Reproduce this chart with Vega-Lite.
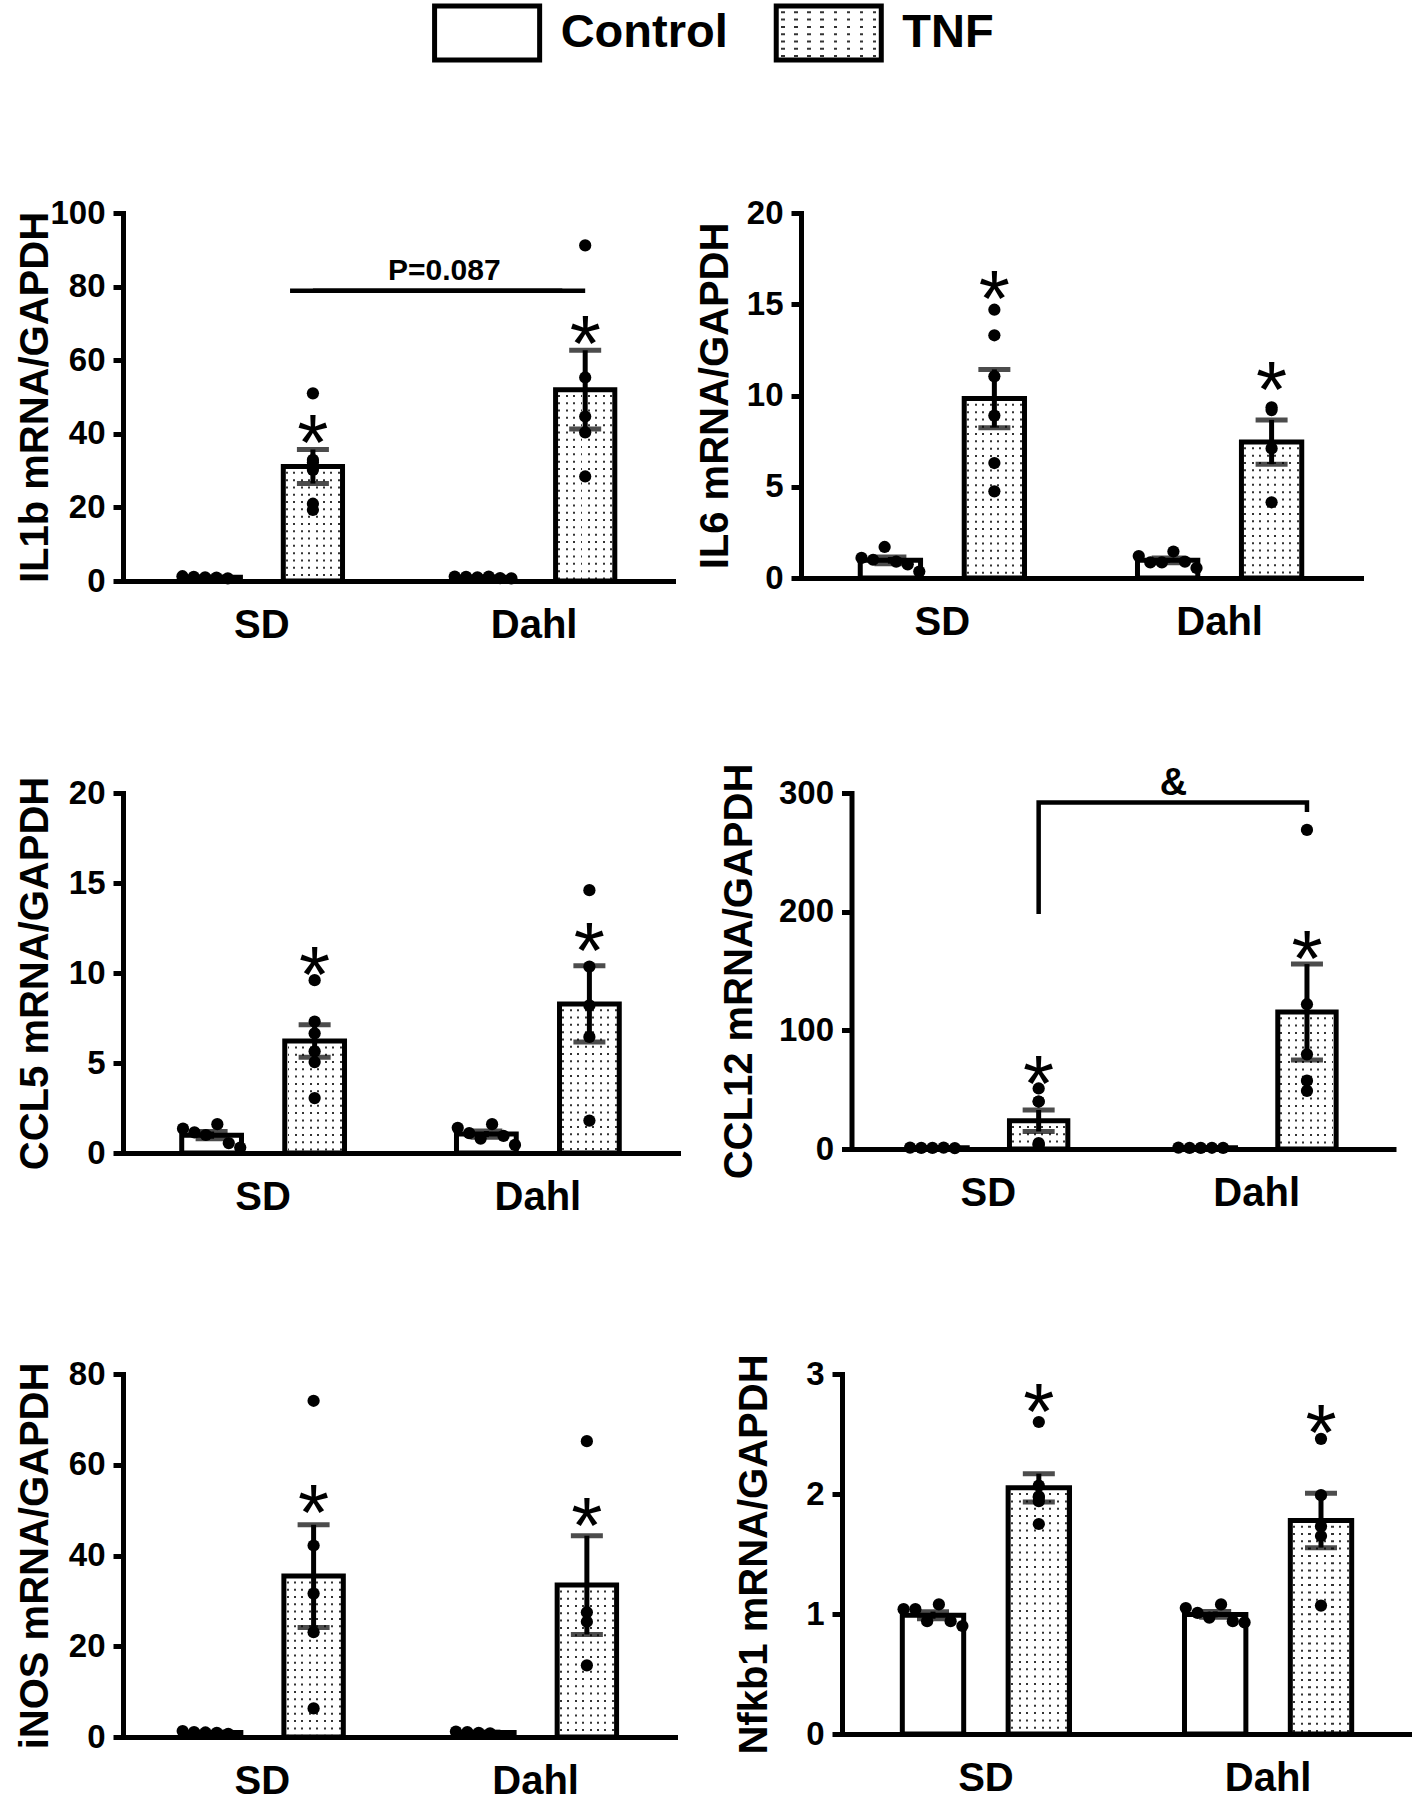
{
"$schema": "https://vega.github.io/schema/vega-lite/v6.json",
"padding": {"left": 15, "top": 3, "right": 5, "bottom": 5},
"spacing": 134,
"config": {
  "font": "Liberation Sans",
  "view": {"stroke": null},
  "axis": {"domainColor": "black", "domainWidth": 5, "domainCap": "square", "tickColor": "black", "tickWidth": 5, "labelColor": "black", "labelFontWeight": "bold", "titleColor": "black", "titleFontWeight": "bold", "grid": false},
  "axisY": {"tickSize": 10, "labelFontSize": 33, "labelPadding": 8, "titleFontSize": 40},
  "axisX": {"ticks": false, "tickSize": 0, "labelFontSize": 40, "labelPadding": 24, "labelAngle": 0}
},
"datasets": {
  "il1b": [
    {"strain":"SD","treatment":"Control","rep":1,"value":1.3},{"strain":"SD","treatment":"Control","rep":2,"value":1.1},{"strain":"SD","treatment":"Control","rep":3,"value":1.0},{"strain":"SD","treatment":"Control","rep":4,"value":0.9},{"strain":"SD","treatment":"Control","rep":5,"value":0.7},
    {"strain":"SD","treatment":"TNF","rep":1,"value":51.0},{"strain":"SD","treatment":"TNF","rep":2,"value":32.9},{"strain":"SD","treatment":"TNF","rep":3,"value":32.2},{"strain":"SD","treatment":"TNF","rep":4,"value":30.2},{"strain":"SD","treatment":"TNF","rep":5,"value":21.0},{"strain":"SD","treatment":"TNF","rep":6,"value":19.3},
    {"strain":"Dahl","treatment":"Control","rep":1,"value":1.2},{"strain":"Dahl","treatment":"Control","rep":2,"value":1.1},{"strain":"Dahl","treatment":"Control","rep":3,"value":1.0},{"strain":"Dahl","treatment":"Control","rep":4,"value":1.2},{"strain":"Dahl","treatment":"Control","rep":5,"value":0.8},{"strain":"Dahl","treatment":"Control","rep":6,"value":0.7},
    {"strain":"Dahl","treatment":"TNF","rep":1,"value":91.2},{"strain":"Dahl","treatment":"TNF","rep":2,"value":55.3},{"strain":"Dahl","treatment":"TNF","rep":3,"value":44.7},{"strain":"Dahl","treatment":"TNF","rep":4,"value":40.4},{"strain":"Dahl","treatment":"TNF","rep":5,"value":28.4}
  ],
  "il6": [
    {"strain":"SD","treatment":"Control","rep":1,"value":1.1},{"strain":"SD","treatment":"Control","rep":2,"value":1.0},{"strain":"SD","treatment":"Control","rep":3,"value":1.7},{"strain":"SD","treatment":"Control","rep":4,"value":0.9},{"strain":"SD","treatment":"Control","rep":5,"value":0.75},{"strain":"SD","treatment":"Control","rep":6,"value":0.35},
    {"strain":"SD","treatment":"TNF","rep":1,"value":14.7},{"strain":"SD","treatment":"TNF","rep":2,"value":13.3},{"strain":"SD","treatment":"TNF","rep":3,"value":11.05},{"strain":"SD","treatment":"TNF","rep":4,"value":8.9},{"strain":"SD","treatment":"TNF","rep":5,"value":6.3},{"strain":"SD","treatment":"TNF","rep":6,"value":4.75},
    {"strain":"Dahl","treatment":"Control","rep":1,"value":1.2},{"strain":"Dahl","treatment":"Control","rep":2,"value":0.85},{"strain":"Dahl","treatment":"Control","rep":3,"value":0.85},{"strain":"Dahl","treatment":"Control","rep":4,"value":1.45},{"strain":"Dahl","treatment":"Control","rep":5,"value":0.9},{"strain":"Dahl","treatment":"Control","rep":6,"value":0.55},
    {"strain":"Dahl","treatment":"TNF","rep":1,"value":9.35},{"strain":"Dahl","treatment":"TNF","rep":2,"value":9.2},{"strain":"Dahl","treatment":"TNF","rep":3,"value":7.1},{"strain":"Dahl","treatment":"TNF","rep":4,"value":4.15}
  ],
  "ccl5": [
    {"strain":"SD","treatment":"Control","rep":1,"value":1.35},{"strain":"SD","treatment":"Control","rep":2,"value":1.15},{"strain":"SD","treatment":"Control","rep":3,"value":1.0},{"strain":"SD","treatment":"Control","rep":4,"value":1.6},{"strain":"SD","treatment":"Control","rep":5,"value":0.55},{"strain":"SD","treatment":"Control","rep":6,"value":0.3},
    {"strain":"SD","treatment":"TNF","rep":1,"value":9.6},{"strain":"SD","treatment":"TNF","rep":2,"value":7.3},{"strain":"SD","treatment":"TNF","rep":3,"value":6.65},{"strain":"SD","treatment":"TNF","rep":4,"value":5.65},{"strain":"SD","treatment":"TNF","rep":5,"value":5.05},{"strain":"SD","treatment":"TNF","rep":6,"value":3.05},
    {"strain":"Dahl","treatment":"Control","rep":1,"value":1.4},{"strain":"Dahl","treatment":"Control","rep":2,"value":1.1},{"strain":"Dahl","treatment":"Control","rep":3,"value":0.8},{"strain":"Dahl","treatment":"Control","rep":4,"value":1.6},{"strain":"Dahl","treatment":"Control","rep":5,"value":0.95},{"strain":"Dahl","treatment":"Control","rep":6,"value":0.45},
    {"strain":"Dahl","treatment":"TNF","rep":1,"value":14.6},{"strain":"Dahl","treatment":"TNF","rep":2,"value":10.35},{"strain":"Dahl","treatment":"TNF","rep":3,"value":8.2},{"strain":"Dahl","treatment":"TNF","rep":4,"value":6.45},{"strain":"Dahl","treatment":"TNF","rep":5,"value":1.8}
  ],
  "ccl12": [
    {"strain":"SD","treatment":"Control","rep":1,"value":1.2},{"strain":"SD","treatment":"Control","rep":2,"value":1.0},{"strain":"SD","treatment":"Control","rep":3,"value":0.9},{"strain":"SD","treatment":"Control","rep":4,"value":1.1},{"strain":"SD","treatment":"Control","rep":5,"value":0.8},
    {"strain":"SD","treatment":"TNF","rep":1,"value":40},{"strain":"SD","treatment":"TNF","rep":2,"value":40},{"strain":"SD","treatment":"TNF","rep":3,"value":51},{"strain":"SD","treatment":"TNF","rep":4,"value":5},{"strain":"SD","treatment":"TNF","rep":5,"value":4},{"strain":"SD","treatment":"TNF","rep":6,"value":3},
    {"strain":"Dahl","treatment":"Control","rep":1,"value":1.1},{"strain":"Dahl","treatment":"Control","rep":2,"value":1.0},{"strain":"Dahl","treatment":"Control","rep":3,"value":0.9},{"strain":"Dahl","treatment":"Control","rep":4,"value":1.05},{"strain":"Dahl","treatment":"Control","rep":5,"value":0.95},
    {"strain":"Dahl","treatment":"TNF","rep":1,"value":268.9},{"strain":"Dahl","treatment":"TNF","rep":2,"value":122},{"strain":"Dahl","treatment":"TNF","rep":3,"value":79.8},{"strain":"Dahl","treatment":"TNF","rep":4,"value":57.6},{"strain":"Dahl","treatment":"TNF","rep":5,"value":49}
  ],
  "inos": [
    {"strain":"SD","treatment":"Control","rep":1,"value":1.3},{"strain":"SD","treatment":"Control","rep":2,"value":1.1},{"strain":"SD","treatment":"Control","rep":3,"value":1.0},{"strain":"SD","treatment":"Control","rep":4,"value":0.9},{"strain":"SD","treatment":"Control","rep":5,"value":0.7},
    {"strain":"SD","treatment":"TNF","rep":1,"value":74.1},{"strain":"SD","treatment":"TNF","rep":2,"value":42.2},{"strain":"SD","treatment":"TNF","rep":3,"value":31.6},{"strain":"SD","treatment":"TNF","rep":4,"value":23.1},{"strain":"SD","treatment":"TNF","rep":5,"value":6.3},
    {"strain":"Dahl","treatment":"Control","rep":1,"value":1.2},{"strain":"Dahl","treatment":"Control","rep":2,"value":1.1},{"strain":"Dahl","treatment":"Control","rep":3,"value":0.9},{"strain":"Dahl","treatment":"Control","rep":4,"value":0.8},
    {"strain":"Dahl","treatment":"TNF","rep":1,"value":65.2},{"strain":"Dahl","treatment":"TNF","rep":2,"value":27.5},{"strain":"Dahl","treatment":"TNF","rep":3,"value":25.4},{"strain":"Dahl","treatment":"TNF","rep":4,"value":15.8}
  ],
  "nfkb1": [
    {"strain":"SD","treatment":"Control","rep":1,"value":1.04},{"strain":"SD","treatment":"Control","rep":2,"value":1.04},{"strain":"SD","treatment":"Control","rep":3,"value":0.94},{"strain":"SD","treatment":"Control","rep":4,"value":1.08},{"strain":"SD","treatment":"Control","rep":5,"value":0.94},{"strain":"SD","treatment":"Control","rep":6,"value":0.9},
    {"strain":"SD","treatment":"TNF","rep":1,"value":2.6},{"strain":"SD","treatment":"TNF","rep":2,"value":2.07},{"strain":"SD","treatment":"TNF","rep":3,"value":1.98},{"strain":"SD","treatment":"TNF","rep":4,"value":1.97},{"strain":"SD","treatment":"TNF","rep":5,"value":1.94},{"strain":"SD","treatment":"TNF","rep":6,"value":1.75},
    {"strain":"Dahl","treatment":"Control","rep":1,"value":1.05},{"strain":"Dahl","treatment":"Control","rep":2,"value":1.01},{"strain":"Dahl","treatment":"Control","rep":3,"value":0.97},{"strain":"Dahl","treatment":"Control","rep":4,"value":1.08},{"strain":"Dahl","treatment":"Control","rep":5,"value":0.94},{"strain":"Dahl","treatment":"Control","rep":6,"value":0.93},
    {"strain":"Dahl","treatment":"TNF","rep":1,"value":2.46},{"strain":"Dahl","treatment":"TNF","rep":2,"value":1.99},{"strain":"Dahl","treatment":"TNF","rep":3,"value":1.73},{"strain":"Dahl","treatment":"TNF","rep":4,"value":1.65},{"strain":"Dahl","treatment":"TNF","rep":5,"value":1.07}
  ],
  "stars1": [{"strain":"SD","treatment":"TNF","value":42.4},{"strain":"Dahl","treatment":"TNF","value":69.2}],
  "stars2": [{"strain":"SD","treatment":"TNF","value":16.3},{"strain":"Dahl","treatment":"TNF","value":11.3}],
  "stars3": [{"strain":"SD","treatment":"TNF","value":10.9},{"strain":"Dahl","treatment":"TNF","value":12.2}],
  "stars4": [{"strain":"SD","treatment":"TNF","value":69.9},{"strain":"Dahl","treatment":"TNF","value":175.4}],
  "stars5": [{"strain":"SD","treatment":"TNF","value":53.4},{"strain":"Dahl","treatment":"TNF","value":50.5}],
  "stars6": [{"strain":"SD","treatment":"TNF","value":2.83},{"strain":"Dahl","treatment":"TNF","value":2.66}],
  "pline": [{"strain":"SD","treatment":"TNF","value":78.9},{"strain":"Dahl","treatment":"TNF","value":78.9}],
  "ptext": [{"strain":"Dahl","label":"P=0.087","value":81.8}],
  "bracket": [{"strain":"SD","treatment":"TNF","ord":1,"value":198},{"strain":"SD","treatment":"TNF","ord":2,"value":292},{"strain":"Dahl","treatment":"TNF","ord":3,"value":292},{"strain":"Dahl","treatment":"TNF","ord":4,"value":284}],
  "amp": [{"strain":"Dahl","label":"&","value":298}],
  "legend": [{"treatment":"Control"},{"treatment":"TNF"}]
},
"vconcat": [
{
  "width": 1130, "height": 54,
  "data": {"name": "legend"},
  "encoding": {"x": {"field": "treatment", "type": "nominal", "axis": null, "scale": {"domain": ["Control","TNF"], "paddingInner": 0.6925, "paddingOuter": 1, "align": 0.456}}},
  "layer": [
    {"transform": [{"filter": "datum.treatment === 'Control'"}], "mark": {"type": "bar", "fill": "white", "stroke": "black", "strokeWidth": 5}},
    {"transform": [{"filter": "datum.treatment === 'TNF'"}], "mark": {"type": "bar", "strokeWidth": 0, "fill": {"gradient": "linear", "x1": 0, "y1": 0, "x2": 1, "y2": 0, "stops": [{"offset":0,"color":"white"},{"offset":0.046,"color":"white"},{"offset":0.046,"color":"#333"},{"offset":0.079,"color":"#333"},{"offset":0.079,"color":"white"},{"offset":0.171,"color":"white"},{"offset":0.171,"color":"#333"},{"offset":0.204,"color":"#333"},{"offset":0.204,"color":"white"},{"offset":0.296,"color":"white"},{"offset":0.296,"color":"#333"},{"offset":0.329,"color":"#333"},{"offset":0.329,"color":"white"},{"offset":0.421,"color":"white"},{"offset":0.421,"color":"#333"},{"offset":0.454,"color":"#333"},{"offset":0.454,"color":"white"},{"offset":0.546,"color":"white"},{"offset":0.546,"color":"#333"},{"offset":0.579,"color":"#333"},{"offset":0.579,"color":"white"},{"offset":0.671,"color":"white"},{"offset":0.671,"color":"#333"},{"offset":0.704,"color":"#333"},{"offset":0.704,"color":"white"},{"offset":0.796,"color":"white"},{"offset":0.796,"color":"#333"},{"offset":0.829,"color":"#333"},{"offset":0.829,"color":"white"},{"offset":0.921,"color":"white"},{"offset":0.921,"color":"#333"},{"offset":0.954,"color":"#333"},{"offset":0.954,"color":"white"},{"offset":1,"color":"white"}]}}},
    {"transform": [{"filter": "datum.treatment === 'TNF'"}], "mark": {"type": "rule", "color": "white", "strokeWidth": 98, "strokeDash": [5.3, 2], "strokeCap": "butt", "clip": true}, "encoding": {}},
    {"transform": [{"filter": "datum.treatment === 'TNF'"}], "mark": {"type": "bar", "filled": false, "stroke": "black", "strokeWidth": 5}},
    {"mark": {"type": "text", "align": "left", "baseline": "middle", "dx": 21, "fontSize": 47, "fontWeight": "bold", "color": "black"},
     "encoding": {"x": {"field": "treatment", "type": "nominal", "bandPosition": 1, "axis": null, "scale": {"domain": ["Control","TNF"], "paddingInner": 0.6925, "paddingOuter": 1, "align": 0.456}}, "text": {"field": "treatment"}}}
  ]
},
{"spacing": 118, "vconcat": [
{"hconcat": [
{
  "width": 550, "height": 368,
  "data": {"name": "il1b"},
  "encoding": {"x": {"field": "strain", "type": "nominal", "title": null, "scale": {"domain": ["SD","Dahl"], "paddingInner": 0.25, "paddingOuter": 0.135}}},
  "layer": [
    {"transform": [{"filter": "datum.treatment === 'Control'"}], "mark": {"type": "bar", "fill": "white", "stroke": "black", "strokeWidth": 5},
     "encoding": {"xOffset": {"field": "treatment", "type": "nominal", "scale": {"type": "band", "domain": ["Control","TNF"], "paddingInner": 0.42, "paddingOuter": 0.21}},
                  "y": {"aggregate": "mean", "field": "value", "type": "quantitative", "title": "IL1b mRNA/GAPDH", "scale": {"domain": [0,100], "nice": false}, "axis": {"values": [0,20,40,60,80,100], "titlePadding": -5.5}}}},
    {"transform": [{"filter": "datum.treatment === 'TNF'"}], "mark": {"type": "bar", "strokeWidth": 0, "fill": {"gradient": "linear", "x1": 0, "y1": 0, "x2": 1, "y2": 0, "stops": [{"offset":0,"color":"white"},{"offset":0.046,"color":"white"},{"offset":0.046,"color":"#333"},{"offset":0.079,"color":"#333"},{"offset":0.079,"color":"white"},{"offset":0.171,"color":"white"},{"offset":0.171,"color":"#333"},{"offset":0.204,"color":"#333"},{"offset":0.204,"color":"white"},{"offset":0.296,"color":"white"},{"offset":0.296,"color":"#333"},{"offset":0.329,"color":"#333"},{"offset":0.329,"color":"white"},{"offset":0.421,"color":"white"},{"offset":0.421,"color":"#333"},{"offset":0.454,"color":"#333"},{"offset":0.454,"color":"white"},{"offset":0.546,"color":"white"},{"offset":0.546,"color":"#333"},{"offset":0.579,"color":"#333"},{"offset":0.579,"color":"white"},{"offset":0.671,"color":"white"},{"offset":0.671,"color":"#333"},{"offset":0.704,"color":"#333"},{"offset":0.704,"color":"white"},{"offset":0.796,"color":"white"},{"offset":0.796,"color":"#333"},{"offset":0.829,"color":"#333"},{"offset":0.829,"color":"white"},{"offset":0.921,"color":"white"},{"offset":0.921,"color":"#333"},{"offset":0.954,"color":"#333"},{"offset":0.954,"color":"white"},{"offset":1,"color":"white"}]}},
     "encoding": {"xOffset": {"field": "treatment", "type": "nominal", "scale": {"type": "band", "domain": ["Control","TNF"], "paddingInner": 0.42, "paddingOuter": 0.21}},
                  "y": {"aggregate": "mean", "field": "value", "type": "quantitative", "title": "IL1b mRNA/GAPDH", "scale": {"domain": [0,100], "nice": false}}}},
    {"transform": [{"filter": "datum.treatment === 'TNF'"}], "mark": {"type": "rule", "color": "white", "strokeWidth": 56, "strokeDash": [5.3, 2], "strokeCap": "butt", "clip": true},
     "encoding": {"xOffset": {"field": "treatment", "type": "nominal", "scale": {"type": "band", "domain": ["Control","TNF"], "paddingInner": 0.42, "paddingOuter": 0.21}},
                  "y": {"aggregate": "mean", "field": "value", "type": "quantitative", "title": "IL1b mRNA/GAPDH", "scale": {"domain": [0,100], "nice": false}}, "y2": {"datum": 0}}},
    {"transform": [{"filter": "datum.treatment === 'TNF'"}], "mark": {"type": "bar", "filled": false, "stroke": "black", "strokeWidth": 5},
     "encoding": {"xOffset": {"field": "treatment", "type": "nominal", "scale": {"type": "band", "domain": ["Control","TNF"], "paddingInner": 0.42, "paddingOuter": 0.21}},
                  "y": {"aggregate": "mean", "field": "value", "type": "quantitative", "title": "IL1b mRNA/GAPDH", "scale": {"domain": [0,100], "nice": false}}}},
    {"mark": {"type": "errorbar", "extent": "stderr", "color": "black", "thickness": 5, "ticks": {"size": 32, "thickness": 5, "color": "black"}},
     "encoding": {"xOffset": {"field": "treatment", "type": "nominal", "scale": {"type": "band", "domain": ["Control","TNF"], "paddingInner": 0.42, "paddingOuter": 0.21}},
                  "y": {"field": "value", "type": "quantitative", "title": "IL1b mRNA/GAPDH", "scale": {"domain": [0,100], "nice": false}}}},
    {"transform": [{"filter": "datum.treatment === 'Control'"}], "mark": {"type": "point", "filled": true, "color": "black", "size": 150, "opacity": 1},
     "encoding": {"xOffset": {"field": "rep", "type": "nominal", "scale": {"type": "point", "domain": [-1,0,1,2,3,4,5,6,7,8,9,10,11,12,13,14,15,16,17], "padding": 0}},
                  "y": {"field": "value", "type": "quantitative", "title": "IL1b mRNA/GAPDH", "scale": {"domain": [0,100], "nice": false}}}},
    {"transform": [{"filter": "datum.treatment === 'TNF'"}], "mark": {"type": "point", "filled": true, "color": "black", "size": 150, "opacity": 1},
     "encoding": {"xOffset": {"field": "treatment", "type": "nominal", "scale": {"type": "band", "domain": ["Control","TNF"], "paddingInner": 0.42, "paddingOuter": 0.21}},
                  "y": {"field": "value", "type": "quantitative", "title": "IL1b mRNA/GAPDH", "scale": {"domain": [0,100], "nice": false}}}},
    {"data": {"name": "stars1"}, "mark": {"type": "text", "text": "*", "fontSize": 80, "dy": 45, "baseline": "alphabetic", "color": "black"},
     "encoding": {"xOffset": {"field": "treatment", "type": "nominal", "scale": {"type": "band", "domain": ["Control","TNF"], "paddingInner": 0.42, "paddingOuter": 0.21}},
                  "y": {"field": "value", "type": "quantitative", "title": "IL1b mRNA/GAPDH", "scale": {"domain": [0,100], "nice": false}}}},
    {"data": {"name": "pline"}, "mark": {"type": "line", "color": "black", "strokeWidth": 4.5},
     "encoding": {"xOffset": {"field": "treatment", "type": "nominal", "scale": {"type": "band", "domain": ["Control","TNF"], "paddingInner": 0.42, "paddingOuter": 0.21}},
                  "y": {"field": "value", "type": "quantitative", "title": "IL1b mRNA/GAPDH", "scale": {"domain": [0,100], "nice": false}}}},
    {"data": {"name": "pline"}, "mark": {"type": "line", "color": "black", "strokeWidth": 4.5},
     "encoding": {"x": {"field": "strain", "type": "nominal", "title": null, "bandPosition": 0.638, "scale": {"domain": ["SD","Dahl"], "paddingInner": 0.25, "paddingOuter": 0.135}},
                  "y": {"field": "value", "type": "quantitative", "title": "IL1b mRNA/GAPDH", "scale": {"domain": [0,100], "nice": false}}}},
    {"data": {"name": "ptext"}, "mark": {"type": "text", "fontSize": 30, "fontWeight": "bold", "baseline": "alphabetic", "align": "center", "color": "black"},
     "encoding": {"x": {"field": "strain", "type": "nominal", "title": null, "bandPosition": 0.06, "scale": {"domain": ["SD","Dahl"], "paddingInner": 0.25, "paddingOuter": 0.135}},
                  "y": {"field": "value", "type": "quantitative", "title": "IL1b mRNA/GAPDH", "scale": {"domain": [0,100], "nice": false}}, "text": {"field": "label"}}}
  ],
  "resolve": {"scale": {"xOffset": "independent"}}
},
{
  "width": 560, "height": 365,
  "data": {"name": "il6"},
  "encoding": {"x": {"field": "strain", "type": "nominal", "title": null, "scale": {"domain": ["SD","Dahl"], "paddingInner": 0.25, "paddingOuter": 0.135}}},
  "layer": [
    {"transform": [{"filter": "datum.treatment === 'Control'"}], "mark": {"type": "bar", "fill": "white", "stroke": "black", "strokeWidth": 5},
     "encoding": {"xOffset": {"field": "treatment", "type": "nominal", "scale": {"type": "band", "domain": ["Control","TNF"], "paddingInner": 0.42, "paddingOuter": 0.21}},
                  "y": {"aggregate": "mean", "field": "value", "type": "quantitative", "title": "IL6 mRNA/GAPDH", "scale": {"domain": [0,20], "nice": false}, "axis": {"values": [0,5,10,15,20], "titlePadding": 11}}}},
    {"transform": [{"filter": "datum.treatment === 'TNF'"}], "mark": {"type": "bar", "strokeWidth": 0, "fill": {"gradient": "linear", "x1": 0, "y1": 0, "x2": 1, "y2": 0, "stops": [{"offset":0,"color":"white"},{"offset":0.046,"color":"white"},{"offset":0.046,"color":"#333"},{"offset":0.079,"color":"#333"},{"offset":0.079,"color":"white"},{"offset":0.171,"color":"white"},{"offset":0.171,"color":"#333"},{"offset":0.204,"color":"#333"},{"offset":0.204,"color":"white"},{"offset":0.296,"color":"white"},{"offset":0.296,"color":"#333"},{"offset":0.329,"color":"#333"},{"offset":0.329,"color":"white"},{"offset":0.421,"color":"white"},{"offset":0.421,"color":"#333"},{"offset":0.454,"color":"#333"},{"offset":0.454,"color":"white"},{"offset":0.546,"color":"white"},{"offset":0.546,"color":"#333"},{"offset":0.579,"color":"#333"},{"offset":0.579,"color":"white"},{"offset":0.671,"color":"white"},{"offset":0.671,"color":"#333"},{"offset":0.704,"color":"#333"},{"offset":0.704,"color":"white"},{"offset":0.796,"color":"white"},{"offset":0.796,"color":"#333"},{"offset":0.829,"color":"#333"},{"offset":0.829,"color":"white"},{"offset":0.921,"color":"white"},{"offset":0.921,"color":"#333"},{"offset":0.954,"color":"#333"},{"offset":0.954,"color":"white"},{"offset":1,"color":"white"}]}},
     "encoding": {"xOffset": {"field": "treatment", "type": "nominal", "scale": {"type": "band", "domain": ["Control","TNF"], "paddingInner": 0.42, "paddingOuter": 0.21}},
                  "y": {"aggregate": "mean", "field": "value", "type": "quantitative", "title": "IL6 mRNA/GAPDH", "scale": {"domain": [0,20], "nice": false}}}},
    {"transform": [{"filter": "datum.treatment === 'TNF'"}], "mark": {"type": "rule", "color": "white", "strokeWidth": 56, "strokeDash": [5.3, 2], "strokeCap": "butt", "clip": true},
     "encoding": {"xOffset": {"field": "treatment", "type": "nominal", "scale": {"type": "band", "domain": ["Control","TNF"], "paddingInner": 0.42, "paddingOuter": 0.21}},
                  "y": {"aggregate": "mean", "field": "value", "type": "quantitative", "title": "IL6 mRNA/GAPDH", "scale": {"domain": [0,20], "nice": false}}, "y2": {"datum": 0}}},
    {"transform": [{"filter": "datum.treatment === 'TNF'"}], "mark": {"type": "bar", "filled": false, "stroke": "black", "strokeWidth": 5},
     "encoding": {"xOffset": {"field": "treatment", "type": "nominal", "scale": {"type": "band", "domain": ["Control","TNF"], "paddingInner": 0.42, "paddingOuter": 0.21}},
                  "y": {"aggregate": "mean", "field": "value", "type": "quantitative", "title": "IL6 mRNA/GAPDH", "scale": {"domain": [0,20], "nice": false}}}},
    {"mark": {"type": "errorbar", "extent": "stderr", "color": "black", "thickness": 5, "ticks": {"size": 32, "thickness": 5, "color": "black"}},
     "encoding": {"xOffset": {"field": "treatment", "type": "nominal", "scale": {"type": "band", "domain": ["Control","TNF"], "paddingInner": 0.42, "paddingOuter": 0.21}},
                  "y": {"field": "value", "type": "quantitative", "title": "IL6 mRNA/GAPDH", "scale": {"domain": [0,20], "nice": false}}}},
    {"transform": [{"filter": "datum.treatment === 'Control'"}], "mark": {"type": "point", "filled": true, "color": "black", "size": 150, "opacity": 1},
     "encoding": {"xOffset": {"field": "rep", "type": "nominal", "scale": {"type": "point", "domain": [-1,0,1,2,3,4,5,6,7,8,9,10,11,12,13,14,15,16,17], "padding": 0}},
                  "y": {"field": "value", "type": "quantitative", "title": "IL6 mRNA/GAPDH", "scale": {"domain": [0,20], "nice": false}}}},
    {"transform": [{"filter": "datum.treatment === 'TNF'"}], "mark": {"type": "point", "filled": true, "color": "black", "size": 150, "opacity": 1},
     "encoding": {"xOffset": {"field": "treatment", "type": "nominal", "scale": {"type": "band", "domain": ["Control","TNF"], "paddingInner": 0.42, "paddingOuter": 0.21}},
                  "y": {"field": "value", "type": "quantitative", "title": "IL6 mRNA/GAPDH", "scale": {"domain": [0,20], "nice": false}}}},
    {"data": {"name": "stars2"}, "mark": {"type": "text", "text": "*", "fontSize": 80, "dy": 45, "baseline": "alphabetic", "color": "black"},
     "encoding": {"xOffset": {"field": "treatment", "type": "nominal", "scale": {"type": "band", "domain": ["Control","TNF"], "paddingInner": 0.42, "paddingOuter": 0.21}},
                  "y": {"field": "value", "type": "quantitative", "title": "IL6 mRNA/GAPDH", "scale": {"domain": [0,20], "nice": false}}}}
  ],
  "resolve": {"scale": {"xOffset": "independent"}}
}
], "spacing": 22},
{"spacing": 136, "vconcat": [
{"hconcat": [
{
  "width": 555, "height": 360,
  "data": {"name": "ccl5"},
  "encoding": {"x": {"field": "strain", "type": "nominal", "title": null, "scale": {"domain": ["SD","Dahl"], "paddingInner": 0.25, "paddingOuter": 0.135}}},
  "layer": [
    {"transform": [{"filter": "datum.treatment === 'Control'"}], "mark": {"type": "bar", "fill": "white", "stroke": "black", "strokeWidth": 5},
     "encoding": {"xOffset": {"field": "treatment", "type": "nominal", "scale": {"type": "band", "domain": ["Control","TNF"], "paddingInner": 0.42, "paddingOuter": 0.21}},
                  "y": {"aggregate": "mean", "field": "value", "type": "quantitative", "title": "CCL5 mRNA/GAPDH", "scale": {"domain": [0,20], "nice": false}, "axis": {"values": [0,5,10,15,20], "titlePadding": 12.5}}}},
    {"transform": [{"filter": "datum.treatment === 'TNF'"}], "mark": {"type": "bar", "strokeWidth": 0, "fill": {"gradient": "linear", "x1": 0, "y1": 0, "x2": 1, "y2": 0, "stops": [{"offset":0,"color":"white"},{"offset":0.046,"color":"white"},{"offset":0.046,"color":"#333"},{"offset":0.079,"color":"#333"},{"offset":0.079,"color":"white"},{"offset":0.171,"color":"white"},{"offset":0.171,"color":"#333"},{"offset":0.204,"color":"#333"},{"offset":0.204,"color":"white"},{"offset":0.296,"color":"white"},{"offset":0.296,"color":"#333"},{"offset":0.329,"color":"#333"},{"offset":0.329,"color":"white"},{"offset":0.421,"color":"white"},{"offset":0.421,"color":"#333"},{"offset":0.454,"color":"#333"},{"offset":0.454,"color":"white"},{"offset":0.546,"color":"white"},{"offset":0.546,"color":"#333"},{"offset":0.579,"color":"#333"},{"offset":0.579,"color":"white"},{"offset":0.671,"color":"white"},{"offset":0.671,"color":"#333"},{"offset":0.704,"color":"#333"},{"offset":0.704,"color":"white"},{"offset":0.796,"color":"white"},{"offset":0.796,"color":"#333"},{"offset":0.829,"color":"#333"},{"offset":0.829,"color":"white"},{"offset":0.921,"color":"white"},{"offset":0.921,"color":"#333"},{"offset":0.954,"color":"#333"},{"offset":0.954,"color":"white"},{"offset":1,"color":"white"}]}},
     "encoding": {"xOffset": {"field": "treatment", "type": "nominal", "scale": {"type": "band", "domain": ["Control","TNF"], "paddingInner": 0.42, "paddingOuter": 0.21}},
                  "y": {"aggregate": "mean", "field": "value", "type": "quantitative", "title": "CCL5 mRNA/GAPDH", "scale": {"domain": [0,20], "nice": false}}}},
    {"transform": [{"filter": "datum.treatment === 'TNF'"}], "mark": {"type": "rule", "color": "white", "strokeWidth": 56, "strokeDash": [5.3, 2], "strokeCap": "butt", "clip": true},
     "encoding": {"xOffset": {"field": "treatment", "type": "nominal", "scale": {"type": "band", "domain": ["Control","TNF"], "paddingInner": 0.42, "paddingOuter": 0.21}},
                  "y": {"aggregate": "mean", "field": "value", "type": "quantitative", "title": "CCL5 mRNA/GAPDH", "scale": {"domain": [0,20], "nice": false}}, "y2": {"datum": 0}}},
    {"transform": [{"filter": "datum.treatment === 'TNF'"}], "mark": {"type": "bar", "filled": false, "stroke": "black", "strokeWidth": 5},
     "encoding": {"xOffset": {"field": "treatment", "type": "nominal", "scale": {"type": "band", "domain": ["Control","TNF"], "paddingInner": 0.42, "paddingOuter": 0.21}},
                  "y": {"aggregate": "mean", "field": "value", "type": "quantitative", "title": "CCL5 mRNA/GAPDH", "scale": {"domain": [0,20], "nice": false}}}},
    {"mark": {"type": "errorbar", "extent": "stderr", "color": "black", "thickness": 5, "ticks": {"size": 32, "thickness": 5, "color": "black"}},
     "encoding": {"xOffset": {"field": "treatment", "type": "nominal", "scale": {"type": "band", "domain": ["Control","TNF"], "paddingInner": 0.42, "paddingOuter": 0.21}},
                  "y": {"field": "value", "type": "quantitative", "title": "CCL5 mRNA/GAPDH", "scale": {"domain": [0,20], "nice": false}}}},
    {"transform": [{"filter": "datum.treatment === 'Control'"}], "mark": {"type": "point", "filled": true, "color": "black", "size": 150, "opacity": 1},
     "encoding": {"xOffset": {"field": "rep", "type": "nominal", "scale": {"type": "point", "domain": [-1,0,1,2,3,4,5,6,7,8,9,10,11,12,13,14,15,16,17], "padding": 0}},
                  "y": {"field": "value", "type": "quantitative", "title": "CCL5 mRNA/GAPDH", "scale": {"domain": [0,20], "nice": false}}}},
    {"transform": [{"filter": "datum.treatment === 'TNF'"}], "mark": {"type": "point", "filled": true, "color": "black", "size": 150, "opacity": 1},
     "encoding": {"xOffset": {"field": "treatment", "type": "nominal", "scale": {"type": "band", "domain": ["Control","TNF"], "paddingInner": 0.42, "paddingOuter": 0.21}},
                  "y": {"field": "value", "type": "quantitative", "title": "CCL5 mRNA/GAPDH", "scale": {"domain": [0,20], "nice": false}}}},
    {"data": {"name": "stars3"}, "mark": {"type": "text", "text": "*", "fontSize": 80, "dy": 45, "baseline": "alphabetic", "color": "black"},
     "encoding": {"xOffset": {"field": "treatment", "type": "nominal", "scale": {"type": "band", "domain": ["Control","TNF"], "paddingInner": 0.42, "paddingOuter": 0.21}},
                  "y": {"field": "value", "type": "quantitative", "title": "CCL5 mRNA/GAPDH", "scale": {"domain": [0,20], "nice": false}}}}
  ],
  "resolve": {"scale": {"xOffset": "independent"}}
},
{
  "width": 542, "height": 356,
  "data": {"name": "ccl12"},
  "encoding": {"x": {"field": "strain", "type": "nominal", "title": null, "scale": {"domain": ["SD","Dahl"], "paddingInner": 0.25, "paddingOuter": 0.135}}},
  "layer": [
    {"transform": [{"filter": "datum.treatment === 'Control'"}], "mark": {"type": "bar", "fill": "white", "stroke": "black", "strokeWidth": 5},
     "encoding": {"xOffset": {"field": "treatment", "type": "nominal", "scale": {"type": "band", "domain": ["Control","TNF"], "paddingInner": 0.42, "paddingOuter": 0.21}},
                  "y": {"aggregate": "mean", "field": "value", "type": "quantitative", "title": "CCL12 mRNA/GAPDH", "scale": {"domain": [0,300], "nice": false}, "axis": {"values": [0,100,200,300], "titlePadding": 18.5}}}},
    {"transform": [{"filter": "datum.treatment === 'TNF'"}], "mark": {"type": "bar", "strokeWidth": 0, "fill": {"gradient": "linear", "x1": 0, "y1": 0, "x2": 1, "y2": 0, "stops": [{"offset":0,"color":"white"},{"offset":0.046,"color":"white"},{"offset":0.046,"color":"#333"},{"offset":0.079,"color":"#333"},{"offset":0.079,"color":"white"},{"offset":0.171,"color":"white"},{"offset":0.171,"color":"#333"},{"offset":0.204,"color":"#333"},{"offset":0.204,"color":"white"},{"offset":0.296,"color":"white"},{"offset":0.296,"color":"#333"},{"offset":0.329,"color":"#333"},{"offset":0.329,"color":"white"},{"offset":0.421,"color":"white"},{"offset":0.421,"color":"#333"},{"offset":0.454,"color":"#333"},{"offset":0.454,"color":"white"},{"offset":0.546,"color":"white"},{"offset":0.546,"color":"#333"},{"offset":0.579,"color":"#333"},{"offset":0.579,"color":"white"},{"offset":0.671,"color":"white"},{"offset":0.671,"color":"#333"},{"offset":0.704,"color":"#333"},{"offset":0.704,"color":"white"},{"offset":0.796,"color":"white"},{"offset":0.796,"color":"#333"},{"offset":0.829,"color":"#333"},{"offset":0.829,"color":"white"},{"offset":0.921,"color":"white"},{"offset":0.921,"color":"#333"},{"offset":0.954,"color":"#333"},{"offset":0.954,"color":"white"},{"offset":1,"color":"white"}]}},
     "encoding": {"xOffset": {"field": "treatment", "type": "nominal", "scale": {"type": "band", "domain": ["Control","TNF"], "paddingInner": 0.42, "paddingOuter": 0.21}},
                  "y": {"aggregate": "mean", "field": "value", "type": "quantitative", "title": "CCL12 mRNA/GAPDH", "scale": {"domain": [0,300], "nice": false}}}},
    {"transform": [{"filter": "datum.treatment === 'TNF'"}], "mark": {"type": "rule", "color": "white", "strokeWidth": 56, "strokeDash": [5.3, 2], "strokeCap": "butt", "clip": true},
     "encoding": {"xOffset": {"field": "treatment", "type": "nominal", "scale": {"type": "band", "domain": ["Control","TNF"], "paddingInner": 0.42, "paddingOuter": 0.21}},
                  "y": {"aggregate": "mean", "field": "value", "type": "quantitative", "title": "CCL12 mRNA/GAPDH", "scale": {"domain": [0,300], "nice": false}}, "y2": {"datum": 0}}},
    {"transform": [{"filter": "datum.treatment === 'TNF'"}], "mark": {"type": "bar", "filled": false, "stroke": "black", "strokeWidth": 5},
     "encoding": {"xOffset": {"field": "treatment", "type": "nominal", "scale": {"type": "band", "domain": ["Control","TNF"], "paddingInner": 0.42, "paddingOuter": 0.21}},
                  "y": {"aggregate": "mean", "field": "value", "type": "quantitative", "title": "CCL12 mRNA/GAPDH", "scale": {"domain": [0,300], "nice": false}}}},
    {"mark": {"type": "errorbar", "extent": "stderr", "color": "black", "thickness": 5, "ticks": {"size": 32, "thickness": 5, "color": "black"}},
     "encoding": {"xOffset": {"field": "treatment", "type": "nominal", "scale": {"type": "band", "domain": ["Control","TNF"], "paddingInner": 0.42, "paddingOuter": 0.21}},
                  "y": {"field": "value", "type": "quantitative", "title": "CCL12 mRNA/GAPDH", "scale": {"domain": [0,300], "nice": false}}}},
    {"transform": [{"filter": "datum.treatment === 'Control'"}], "mark": {"type": "point", "filled": true, "color": "black", "size": 150, "opacity": 1},
     "encoding": {"xOffset": {"field": "rep", "type": "nominal", "scale": {"type": "point", "domain": [-1,0,1,2,3,4,5,6,7,8,9,10,11,12,13,14,15,16,17], "padding": 0}},
                  "y": {"field": "value", "type": "quantitative", "title": "CCL12 mRNA/GAPDH", "scale": {"domain": [0,300], "nice": false}}}},
    {"transform": [{"filter": "datum.treatment === 'TNF'"}], "mark": {"type": "point", "filled": true, "color": "black", "size": 150, "opacity": 1},
     "encoding": {"xOffset": {"field": "treatment", "type": "nominal", "scale": {"type": "band", "domain": ["Control","TNF"], "paddingInner": 0.42, "paddingOuter": 0.21}},
                  "y": {"field": "value", "type": "quantitative", "title": "CCL12 mRNA/GAPDH", "scale": {"domain": [0,300], "nice": false}}}},
    {"data": {"name": "stars4"}, "mark": {"type": "text", "text": "*", "fontSize": 80, "dy": 45, "baseline": "alphabetic", "color": "black"},
     "encoding": {"xOffset": {"field": "treatment", "type": "nominal", "scale": {"type": "band", "domain": ["Control","TNF"], "paddingInner": 0.42, "paddingOuter": 0.21}},
                  "y": {"field": "value", "type": "quantitative", "title": "CCL12 mRNA/GAPDH", "scale": {"domain": [0,300], "nice": false}}}},
    {"data": {"name": "bracket"}, "mark": {"type": "line", "color": "black", "strokeWidth": 4.5},
     "encoding": {"xOffset": {"field": "treatment", "type": "nominal", "scale": {"type": "band", "domain": ["Control","TNF"], "paddingInner": 0.42, "paddingOuter": 0.21}},
                  "order": {"field": "ord", "type": "quantitative"},
                  "y": {"field": "value", "type": "quantitative", "title": "CCL12 mRNA/GAPDH", "scale": {"domain": [0,300], "nice": false}}}},
    {"data": {"name": "amp"}, "mark": {"type": "text", "fontSize": 38, "fontWeight": "bold", "baseline": "alphabetic", "align": "center", "color": "black"},
     "encoding": {"x": {"field": "strain", "type": "nominal", "title": null, "bandPosition": 0.087, "scale": {"domain": ["SD","Dahl"], "paddingInner": 0.25, "paddingOuter": 0.135}},
                  "y": {"field": "value", "type": "quantitative", "title": "CCL12 mRNA/GAPDH", "scale": {"domain": [0,300], "nice": false}}, "text": {"field": "label"}}}
  ],
  "resolve": {"scale": {"xOffset": "independent"}}
}
], "spacing": 41.5},
{"hconcat": [
{
  "width": 552, "height": 363,
  "data": {"name": "inos"},
  "encoding": {"x": {"field": "strain", "type": "nominal", "title": null, "scale": {"domain": ["SD","Dahl"], "paddingInner": 0.25, "paddingOuter": 0.135}}},
  "layer": [
    {"transform": [{"filter": "datum.treatment === 'Control'"}], "mark": {"type": "bar", "fill": "white", "stroke": "black", "strokeWidth": 5},
     "encoding": {"xOffset": {"field": "treatment", "type": "nominal", "scale": {"type": "band", "domain": ["Control","TNF"], "paddingInner": 0.42, "paddingOuter": 0.21}},
                  "y": {"aggregate": "mean", "field": "value", "type": "quantitative", "title": "iNOS mRNA/GAPDH", "scale": {"domain": [0,80], "nice": false}, "axis": {"values": [0,20,40,60,80], "titlePadding": 12.5}}}},
    {"transform": [{"filter": "datum.treatment === 'TNF'"}], "mark": {"type": "bar", "strokeWidth": 0, "fill": {"gradient": "linear", "x1": 0, "y1": 0, "x2": 1, "y2": 0, "stops": [{"offset":0,"color":"white"},{"offset":0.046,"color":"white"},{"offset":0.046,"color":"#333"},{"offset":0.079,"color":"#333"},{"offset":0.079,"color":"white"},{"offset":0.171,"color":"white"},{"offset":0.171,"color":"#333"},{"offset":0.204,"color":"#333"},{"offset":0.204,"color":"white"},{"offset":0.296,"color":"white"},{"offset":0.296,"color":"#333"},{"offset":0.329,"color":"#333"},{"offset":0.329,"color":"white"},{"offset":0.421,"color":"white"},{"offset":0.421,"color":"#333"},{"offset":0.454,"color":"#333"},{"offset":0.454,"color":"white"},{"offset":0.546,"color":"white"},{"offset":0.546,"color":"#333"},{"offset":0.579,"color":"#333"},{"offset":0.579,"color":"white"},{"offset":0.671,"color":"white"},{"offset":0.671,"color":"#333"},{"offset":0.704,"color":"#333"},{"offset":0.704,"color":"white"},{"offset":0.796,"color":"white"},{"offset":0.796,"color":"#333"},{"offset":0.829,"color":"#333"},{"offset":0.829,"color":"white"},{"offset":0.921,"color":"white"},{"offset":0.921,"color":"#333"},{"offset":0.954,"color":"#333"},{"offset":0.954,"color":"white"},{"offset":1,"color":"white"}]}},
     "encoding": {"xOffset": {"field": "treatment", "type": "nominal", "scale": {"type": "band", "domain": ["Control","TNF"], "paddingInner": 0.42, "paddingOuter": 0.21}},
                  "y": {"aggregate": "mean", "field": "value", "type": "quantitative", "title": "iNOS mRNA/GAPDH", "scale": {"domain": [0,80], "nice": false}}}},
    {"transform": [{"filter": "datum.treatment === 'TNF'"}], "mark": {"type": "rule", "color": "white", "strokeWidth": 56, "strokeDash": [5.3, 2], "strokeCap": "butt", "clip": true},
     "encoding": {"xOffset": {"field": "treatment", "type": "nominal", "scale": {"type": "band", "domain": ["Control","TNF"], "paddingInner": 0.42, "paddingOuter": 0.21}},
                  "y": {"aggregate": "mean", "field": "value", "type": "quantitative", "title": "iNOS mRNA/GAPDH", "scale": {"domain": [0,80], "nice": false}}, "y2": {"datum": 0}}},
    {"transform": [{"filter": "datum.treatment === 'TNF'"}], "mark": {"type": "bar", "filled": false, "stroke": "black", "strokeWidth": 5},
     "encoding": {"xOffset": {"field": "treatment", "type": "nominal", "scale": {"type": "band", "domain": ["Control","TNF"], "paddingInner": 0.42, "paddingOuter": 0.21}},
                  "y": {"aggregate": "mean", "field": "value", "type": "quantitative", "title": "iNOS mRNA/GAPDH", "scale": {"domain": [0,80], "nice": false}}}},
    {"mark": {"type": "errorbar", "extent": "stderr", "color": "black", "thickness": 5, "ticks": {"size": 32, "thickness": 5, "color": "black"}},
     "encoding": {"xOffset": {"field": "treatment", "type": "nominal", "scale": {"type": "band", "domain": ["Control","TNF"], "paddingInner": 0.42, "paddingOuter": 0.21}},
                  "y": {"field": "value", "type": "quantitative", "title": "iNOS mRNA/GAPDH", "scale": {"domain": [0,80], "nice": false}}}},
    {"transform": [{"filter": "datum.treatment === 'Control'"}], "mark": {"type": "point", "filled": true, "color": "black", "size": 150, "opacity": 1},
     "encoding": {"xOffset": {"field": "rep", "type": "nominal", "scale": {"type": "point", "domain": [-1,0,1,2,3,4,5,6,7,8,9,10,11,12,13,14,15,16,17], "padding": 0}},
                  "y": {"field": "value", "type": "quantitative", "title": "iNOS mRNA/GAPDH", "scale": {"domain": [0,80], "nice": false}}}},
    {"transform": [{"filter": "datum.treatment === 'TNF'"}], "mark": {"type": "point", "filled": true, "color": "black", "size": 150, "opacity": 1},
     "encoding": {"xOffset": {"field": "treatment", "type": "nominal", "scale": {"type": "band", "domain": ["Control","TNF"], "paddingInner": 0.42, "paddingOuter": 0.21}},
                  "y": {"field": "value", "type": "quantitative", "title": "iNOS mRNA/GAPDH", "scale": {"domain": [0,80], "nice": false}}}},
    {"data": {"name": "stars5"}, "mark": {"type": "text", "text": "*", "fontSize": 80, "dy": 45, "baseline": "alphabetic", "color": "black"},
     "encoding": {"xOffset": {"field": "treatment", "type": "nominal", "scale": {"type": "band", "domain": ["Control","TNF"], "paddingInner": 0.42, "paddingOuter": 0.21}},
                  "y": {"field": "value", "type": "quantitative", "title": "iNOS mRNA/GAPDH", "scale": {"domain": [0,80], "nice": false}}}}
  ],
  "resolve": {"scale": {"xOffset": "independent"}}
},
{
  "width": 570, "height": 360,
  "data": {"name": "nfkb1"},
  "encoding": {"x": {"field": "strain", "type": "nominal", "title": null, "scale": {"domain": ["SD","Dahl"], "paddingInner": 0.25, "paddingOuter": 0.135}}},
  "layer": [
    {"transform": [{"filter": "datum.treatment === 'Control'"}], "mark": {"type": "bar", "fill": "white", "stroke": "black", "strokeWidth": 5},
     "encoding": {"xOffset": {"field": "treatment", "type": "nominal", "scale": {"type": "band", "domain": ["Control","TNF"], "paddingInner": 0.42, "paddingOuter": 0.21}},
                  "y": {"aggregate": "mean", "field": "value", "type": "quantitative", "title": "Nfkb1 mRNA/GAPDH", "scale": {"domain": [0,3], "nice": false}, "axis": {"values": [0,1,2,3], "format": "d", "titlePadding": 31}}}},
    {"transform": [{"filter": "datum.treatment === 'TNF'"}], "mark": {"type": "bar", "strokeWidth": 0, "fill": {"gradient": "linear", "x1": 0, "y1": 0, "x2": 1, "y2": 0, "stops": [{"offset":0,"color":"white"},{"offset":0.046,"color":"white"},{"offset":0.046,"color":"#333"},{"offset":0.079,"color":"#333"},{"offset":0.079,"color":"white"},{"offset":0.171,"color":"white"},{"offset":0.171,"color":"#333"},{"offset":0.204,"color":"#333"},{"offset":0.204,"color":"white"},{"offset":0.296,"color":"white"},{"offset":0.296,"color":"#333"},{"offset":0.329,"color":"#333"},{"offset":0.329,"color":"white"},{"offset":0.421,"color":"white"},{"offset":0.421,"color":"#333"},{"offset":0.454,"color":"#333"},{"offset":0.454,"color":"white"},{"offset":0.546,"color":"white"},{"offset":0.546,"color":"#333"},{"offset":0.579,"color":"#333"},{"offset":0.579,"color":"white"},{"offset":0.671,"color":"white"},{"offset":0.671,"color":"#333"},{"offset":0.704,"color":"#333"},{"offset":0.704,"color":"white"},{"offset":0.796,"color":"white"},{"offset":0.796,"color":"#333"},{"offset":0.829,"color":"#333"},{"offset":0.829,"color":"white"},{"offset":0.921,"color":"white"},{"offset":0.921,"color":"#333"},{"offset":0.954,"color":"#333"},{"offset":0.954,"color":"white"},{"offset":1,"color":"white"}]}},
     "encoding": {"xOffset": {"field": "treatment", "type": "nominal", "scale": {"type": "band", "domain": ["Control","TNF"], "paddingInner": 0.42, "paddingOuter": 0.21}},
                  "y": {"aggregate": "mean", "field": "value", "type": "quantitative", "title": "Nfkb1 mRNA/GAPDH", "scale": {"domain": [0,3], "nice": false}}}},
    {"transform": [{"filter": "datum.treatment === 'TNF'"}], "mark": {"type": "rule", "color": "white", "strokeWidth": 56, "strokeDash": [5.3, 2], "strokeCap": "butt", "clip": true},
     "encoding": {"xOffset": {"field": "treatment", "type": "nominal", "scale": {"type": "band", "domain": ["Control","TNF"], "paddingInner": 0.42, "paddingOuter": 0.21}},
                  "y": {"aggregate": "mean", "field": "value", "type": "quantitative", "title": "Nfkb1 mRNA/GAPDH", "scale": {"domain": [0,3], "nice": false}}, "y2": {"datum": 0}}},
    {"transform": [{"filter": "datum.treatment === 'TNF'"}], "mark": {"type": "bar", "filled": false, "stroke": "black", "strokeWidth": 5},
     "encoding": {"xOffset": {"field": "treatment", "type": "nominal", "scale": {"type": "band", "domain": ["Control","TNF"], "paddingInner": 0.42, "paddingOuter": 0.21}},
                  "y": {"aggregate": "mean", "field": "value", "type": "quantitative", "title": "Nfkb1 mRNA/GAPDH", "scale": {"domain": [0,3], "nice": false}}}},
    {"mark": {"type": "errorbar", "extent": "stderr", "color": "black", "thickness": 5, "ticks": {"size": 32, "thickness": 5, "color": "black"}},
     "encoding": {"xOffset": {"field": "treatment", "type": "nominal", "scale": {"type": "band", "domain": ["Control","TNF"], "paddingInner": 0.42, "paddingOuter": 0.21}},
                  "y": {"field": "value", "type": "quantitative", "title": "Nfkb1 mRNA/GAPDH", "scale": {"domain": [0,3], "nice": false}}}},
    {"transform": [{"filter": "datum.treatment === 'Control'"}], "mark": {"type": "point", "filled": true, "color": "black", "size": 150, "opacity": 1},
     "encoding": {"xOffset": {"field": "rep", "type": "nominal", "scale": {"type": "point", "domain": [-1,0,1,2,3,4,5,6,7,8,9,10,11,12,13,14,15,16,17], "padding": 0}},
                  "y": {"field": "value", "type": "quantitative", "title": "Nfkb1 mRNA/GAPDH", "scale": {"domain": [0,3], "nice": false}}}},
    {"transform": [{"filter": "datum.treatment === 'TNF'"}], "mark": {"type": "point", "filled": true, "color": "black", "size": 150, "opacity": 1},
     "encoding": {"xOffset": {"field": "treatment", "type": "nominal", "scale": {"type": "band", "domain": ["Control","TNF"], "paddingInner": 0.42, "paddingOuter": 0.21}},
                  "y": {"field": "value", "type": "quantitative", "title": "Nfkb1 mRNA/GAPDH", "scale": {"domain": [0,3], "nice": false}}}},
    {"data": {"name": "stars6"}, "mark": {"type": "text", "text": "*", "fontSize": 80, "dy": 45, "baseline": "alphabetic", "color": "black"},
     "encoding": {"xOffset": {"field": "treatment", "type": "nominal", "scale": {"type": "band", "domain": ["Control","TNF"], "paddingInner": 0.42, "paddingOuter": 0.21}},
                  "y": {"field": "value", "type": "quantitative", "title": "Nfkb1 mRNA/GAPDH", "scale": {"domain": [0,3], "nice": false}}}}
  ],
  "resolve": {"scale": {"xOffset": "independent"}}
}
], "spacing": 59}
]}
]}
]
}
